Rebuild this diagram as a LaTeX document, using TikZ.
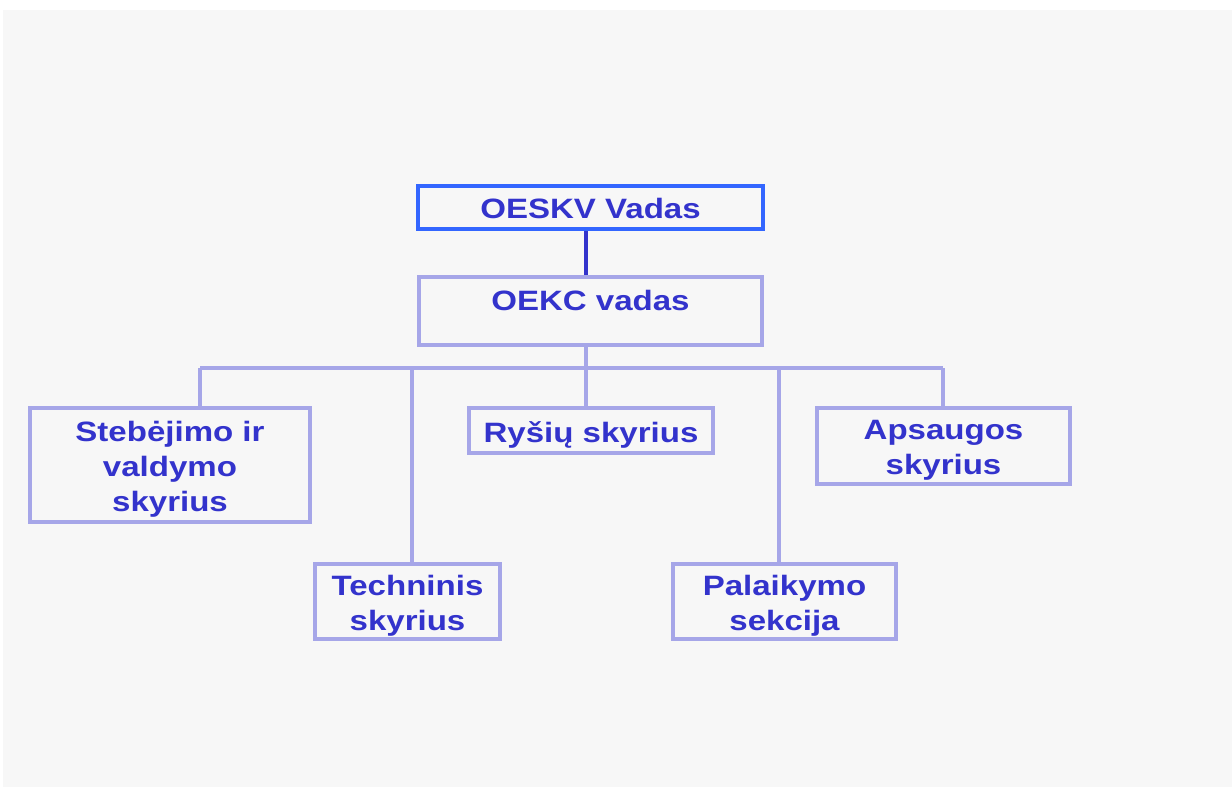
\documentclass[tikz,border=0pt]{standalone}
\usepackage{fontspec}
\setmainfont{Liberation Sans}[FakeStretch=1.18]
\definecolor{bgcol}{HTML}{F7F7F7}
\definecolor{txtcol}{HTML}{3333CC}
\definecolor{topline}{HTML}{3366FF}
\definecolor{lightline}{HTML}{A6A6E8}
\begin{document}
\begin{tikzpicture}[x=1pt,y=-1pt,
  every node/.style={font=\fontsize{28}{35}\selectfont\bfseries, text=txtcol, align=center},
  unitbox/.style={draw=lightline, line width=3.5pt, fill=bgcol, inner sep=0pt},
  headbox/.style={draw=topline, line width=4pt, fill=bgcol, inner sep=0pt},
  boxtext/.style={label={[yshift=-4.5pt]center:#1}},
  link/.style={draw=lightline, line width=3.5pt},
  mainlink/.style={draw=txtcol, line width=4pt}]
  % page and grey panel
  \useasboundingbox (0,0) rectangle (1232,789);
  \fill[white] (0,0) rectangle (1232,789);
  \fill[bgcol] (3,10) rectangle (1232,787);

  % connectors (drawn first, boxes cover their ends)
  \coordinate (bus) at (586,368);
  \draw[link] (586,345) -- (bus);
  \draw[link] (200,368) -- (943,368);
  \draw[link] (200,368) -- (200,408);
  \draw[link] (412,368) -- (412,564);
  \draw[link] (586,368) -- (586,408);
  \draw[link] (779,368) -- (779,564);
  \draw[link] (943,368) -- (943,408);

  % boxes
  \node[headbox, minimum width=345pt, minimum height=43pt] (cmd) at (590.5,207.5) {};
  \node (cmdtext) at (590.5,208.5) {OESKV Vadas};
  \node[unitbox, minimum width=343pt, minimum height=68pt] (deputy) at (590.5,311) {};
  \node (deputytext) at (590.5,300.5) {OEKC vadas};
  \draw[mainlink] (cmd.south -| 586,0) -- (deputy.north -| 586,0);

  \node[unitbox, minimum width=280pt, minimum height=114pt, boxtext={Stebėjimo ir\\valdymo\\skyrius}] (obs) at (170,465) {};
  \node[unitbox, minimum width=185pt, minimum height=75pt, boxtext={Techninis\\skyrius}] (tech) at (407.5,601.5) {};
  \node[unitbox, minimum width=244pt, minimum height=45pt, boxtext={Ryšių skyrius}] (comm) at (591,430.5) {};
  \node[unitbox, minimum width=223pt, minimum height=75pt, boxtext={Palaikymo\\sekcija}] (supp) at (784.5,601.5) {};
  \node[unitbox, minimum width=253pt, minimum height=76pt, boxtext={Apsaugos\\skyrius}] (prot) at (943.5,446) {};
\end{tikzpicture}
\end{document}
